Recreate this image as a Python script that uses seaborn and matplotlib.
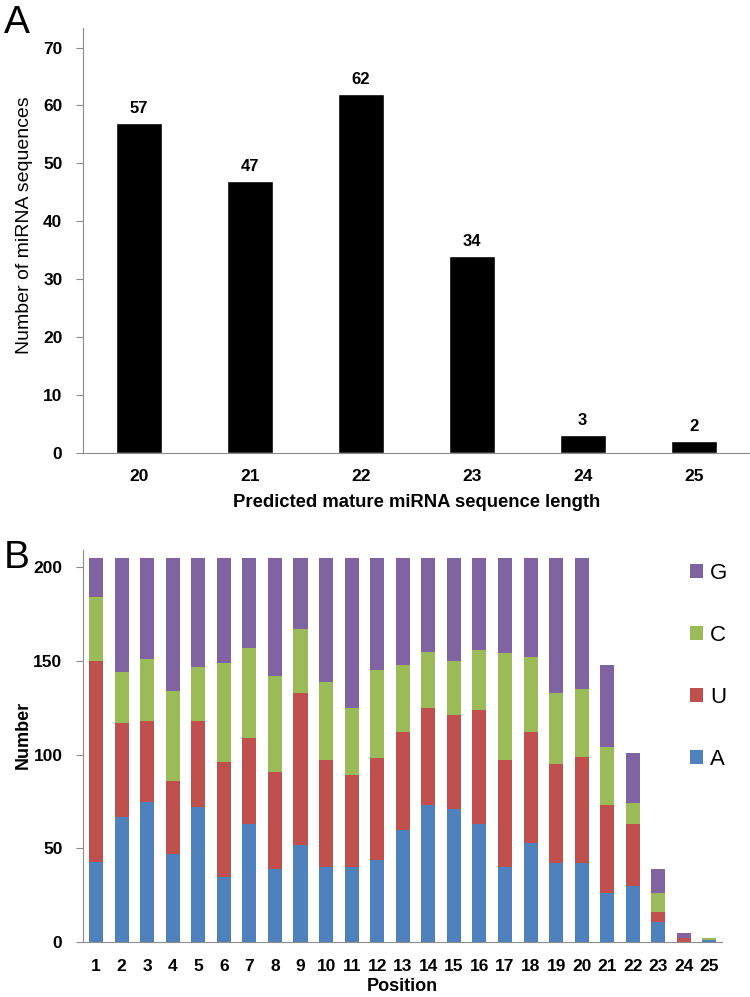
import matplotlib
matplotlib.use("Agg")
import matplotlib.pyplot as plt
import seaborn as sns
import pandas as pd

# panel A: length distribution
lengths = ["20", "21", "22", "23", "24", "25"]
counts = [57, 47, 62, 34, 3, 2]

# panel B: nucleotide counts per position
positions = list(range(1, 26))
nt_A = [43, 67, 75, 47, 72, 35, 63, 39, 52, 40, 40, 44, 60, 73, 71, 63, 40, 53, 42, 42, 26, 30, 11, 0, 1]
nt_U = [107, 50, 43, 39, 46, 61, 46, 52, 81, 57, 49, 54, 52, 52, 50, 61, 57, 59, 53, 57, 47, 33, 5, 2, 0]
nt_C = [34, 27, 33, 48, 29, 53, 48, 51, 34, 42, 36, 47, 36, 30, 29, 32, 57, 40, 38, 36, 31, 11, 10, 0, 1]
nt_G = [21, 61, 54, 71, 58, 56, 48, 63, 38, 66, 80, 60, 57, 50, 55, 49, 51, 53, 72, 70, 44, 27, 13, 3, 0]
nt_colors = {"A": "#4F81BD", "U": "#C0504D", "C": "#9BBB59", "G": "#8064A2"}

sns.set_style("ticks")
plt.rcParams["font.family"] = ["Liberation Sans", "DejaVu Sans"]
plt.rcParams["text.color"] = "black"
plt.rcParams["axes.labelcolor"] = "black"
gray = "#8c8c8c"

fig = plt.figure(figsize=(7.5, 9.97), dpi=100)
axA = fig.add_axes([0.111, 0.546, 0.888, 0.426])
axB = fig.add_axes([0.111, 0.055, 0.852, 0.393])

# ---- A ----
sns.barplot(x=lengths, y=counts, color="black", width=0.41, ax=axA, saturation=1)
axA.bar_label(axA.containers[0], fontsize=12, fontweight="bold", padding=5, color="black")
axA.set_xlim(-0.5, 5.5)
axA.set_ylim(0, 73.4)
axA.set_yticks(range(0, 71, 10))
axA.set_xlabel("Predicted mature miRNA sequence length", fontsize=13.3, fontweight="bold", labelpad=7)
axA.set_ylabel("Number of miRNA sequences", fontsize=14)
axA.yaxis.set_label_coords(-0.075, 0.536)

# ---- B ----
df = pd.DataFrame({
    "Position": positions * 4,
    "nt": ["A"] * 25 + ["U"] * 25 + ["C"] * 25 + ["G"] * 25,
    "n": nt_A + nt_U + nt_C + nt_G,
})
sns.histplot(data=df, x="Position", weights="n", hue="nt", hue_order=["G", "C", "U", "A"],
             palette=nt_colors, multiple="stack", discrete=True, shrink=0.55,
             linewidth=0, alpha=1, ax=axB)
axB.set_xlim(0.5, 25.5)
axB.set_ylim(0, 209)
axB.set_xticks(positions)
axB.set_yticks(range(0, 201, 50))
axB.set_xlabel("Position", fontsize=13, fontweight="bold", labelpad=3)
axB.set_ylabel("Number", fontsize=13, fontweight="bold")
axB.yaxis.set_label_coords(-0.08, 0.53)
sns.move_legend(axB, "upper left", bbox_to_anchor=(0.918, 1.02), title=None, frameon=False,
                fontsize=16, labelspacing=1.85, handlelength=0.6, handleheight=0.6,
                handletextpad=0.3)

for ax in (axA, axB):
    sns.despine(ax=ax)
    ax.spines["left"].set_color(gray)
    ax.spines["bottom"].set_color(gray)
    ax.tick_params(axis="y", colors=gray, length=5, labelsize=12.5, labelcolor="black", pad=10)
    ax.tick_params(axis="x", length=0, labelsize=12.5, labelcolor="black", pad=12)
    for lab in ax.get_xticklabels() + ax.get_yticklabels():
        lab.set_fontweight("bold")

fig.text(0.005, 0.995, "A", fontsize=28, va="top")
fig.text(0.005, 0.458, "B", fontsize=28, va="top")

fig.savefig("out.png", dpi=100)
